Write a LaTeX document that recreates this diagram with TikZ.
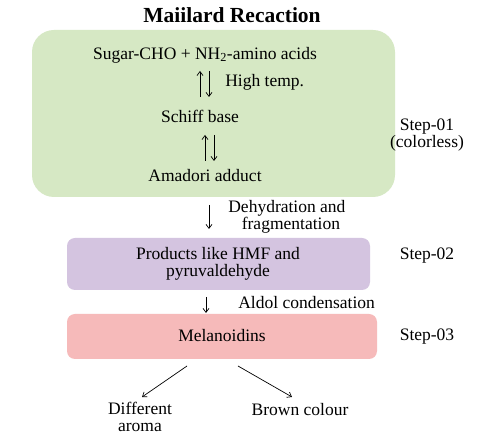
\documentclass[tikz,border=0pt]{standalone}
\usepackage{fontspec}
\setmainfont{Liberation Serif}
\usetikzlibrary{arrows.meta,positioning}
\definecolor{stepgreen}{RGB}{214,232,196}
\definecolor{steppurple}{RGB}{212,196,224}
\definecolor{stepred}{RGB}{246,186,186}
\tikzset{
  stepbox/.style={rounded corners=#1, draw=none},
  txt/.style={font=\fontsize{17.5}{17}\selectfont, align=center, inner sep=0pt},
  steplabel/.style={txt, anchor=center},
}
\begin{document}
\begin{tikzpicture}[x=1pt, y=-1pt, >={Straight Barb[length=4pt,width=6pt]}, line width=0.7pt]
            \useasboundingbox (0,0) rectangle (483,435);
            \fill[white] (0,0) rectangle (483,435);
            % boxes
            \fill[stepgreen, stepbox=22pt] (32,30) rectangle (395,197);
            \fill[steppurple, stepbox=8pt] (67,238) rectangle (370,290);
            \fill[stepred, stepbox=8pt] (67,314) rectangle (377,359);
            % title
            \node[font=\fontsize{21.5}{24}\selectfont\bfseries] (title) at (232,15) {Maiilard Recaction};
            % step 01
            \node[txt] (sugar) at (205,55) {Sugar-CHO + NH\textsubscript{2}-amino acids};
            \node[txt] (schiff) at (200,116) {Schiff base};
            \node[txt] (amadori) at (205,176) {Amadori adduct};
            \coordinate (eqA1) at (200,71);  \coordinate (eqA2) at (200,97);
            \coordinate (eqB1) at (209,71);  \coordinate (eqB2) at (209,97);
            \coordinate (eqC1) at (205,135); \coordinate (eqC2) at (205,161);
            \coordinate (eqD1) at (214,135); \coordinate (eqD2) at (214,161);
            \draw[->] (eqA2) -- (eqA1);
            \draw[->] (eqB1) -- (eqB2);
            \draw[->] (eqC2) -- (eqC1);
            \draw[->] (eqD1) -- (eqD2);
            \node[txt, anchor=west] (hightemp) at (225,82) {High temp.};
            \node[steplabel] (step1) at (427,135) {Step-01\\(colorless)};
            % step 02
            \coordinate (dehA) at (209,205); \coordinate (dehB) at (209,229);
            \draw[->] (dehA) -- (dehB);
            \node[txt, anchor=west] (dehyd) at (228,217) {Dehydration and\\\hspace*{8pt}fragmentation};
            \node[txt] (products) at (218,264) {Products like HMF and\\pyruvaldehyde};
            \node[steplabel] (step2) at (427,256) {Step-02};
            % step 03
            \coordinate (aldA) at (206,297); \coordinate (aldB) at (206,313);
            \draw[->] (aldA) -- (aldB);
            \node[txt, anchor=west] (aldol) at (238,303) {Aldol condensation};
            \node[txt] (melan) at (222,336) {Melanoidins};
            \node[steplabel] (step3) at (427,337) {Step-03};
            % outcomes
            \node[txt] (aroma) at (140,417) {Different\\aroma};
            \node[txt] (brown) at (300,410) {Brown colour};
            \coordinate (outL) at (187,366); \coordinate (outR) at (238,366);
            \draw[->] (outL) -- (142,397);
            \draw[->] (outR) -- (292,397);
        \end{tikzpicture}
\end{document}
